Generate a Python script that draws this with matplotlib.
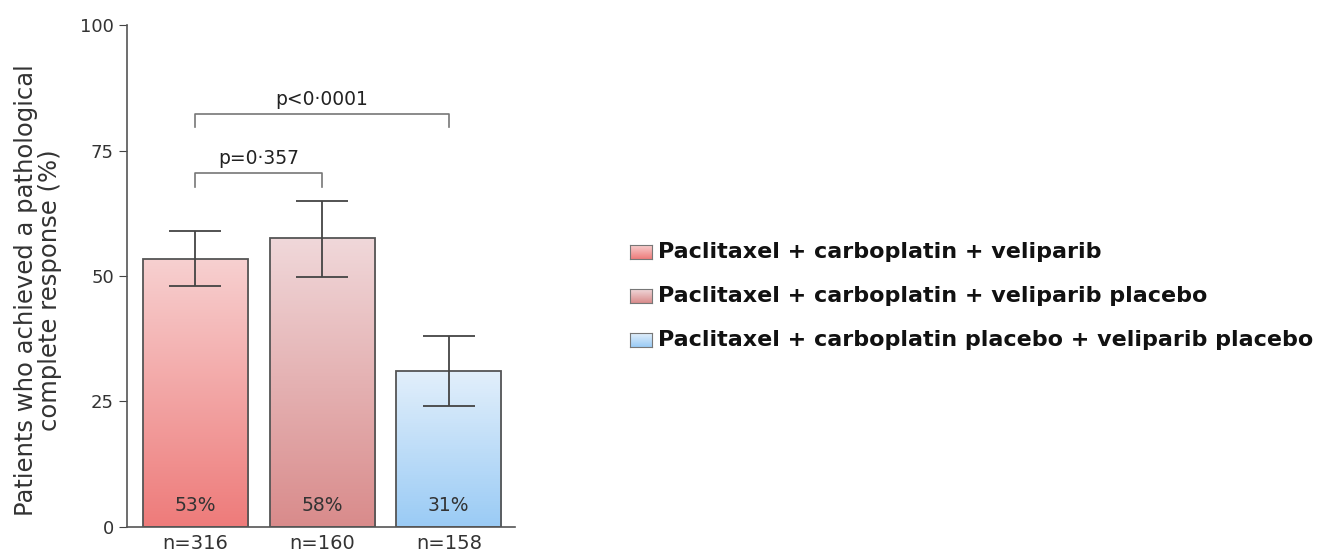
import numpy as np
import matplotlib.pyplot as plt
from matplotlib.patches import Rectangle
from matplotlib.colors import LinearSegmentedColormap

plt.rcParams['font.family'] = ['DejaVu Sans']

groups = ["Paclitaxel + carboplatin + veliparib",
          "Paclitaxel + carboplatin + veliparib placebo",
          "Paclitaxel + carboplatin placebo + veliparib placebo"]
n_labels = ["n=316", "n=160", "n=158"]
pcr = [53.3, 57.6, 31.0]
ci_low = [48.0, 49.7, 24.0]
ci_high = [59.0, 65.0, 38.0]
pct_labels = ["53%", "58%", "31%"]
# (top colour, bottom colour) for each bar
grad_colors = [("#f7d0d0", "#ee7b7a"),
               ("#f0d8da", "#d98b8b"),
               ("#e2effb", "#9acbf5")]
comparisons = [(0, 1, 70.5, "p=0·357"), (0, 2, 82.3, "p<0·0001")]

fig = plt.figure(figsize=(13.23, 5.57), dpi=100)
ax = fig.add_axes([0.096, 0.054, 0.293, 0.901])

width = 0.83
x = np.arange(len(pcr))
grad = np.linspace(0, 1, 256).reshape(-1, 1)
for i, (val, (top, bot)) in enumerate(zip(pcr, grad_colors)):
    cmap = LinearSegmentedColormap.from_list("g%d" % i, [bot, top])
    im = ax.imshow(grad, cmap=cmap, aspect="auto", origin="lower",
                   extent=[x[i] - width / 2, x[i] + width / 2, 0, val], zorder=1)
    rect = Rectangle((x[i] - width / 2, 0), width, val, facecolor="none",
                     edgecolor="#555555", linewidth=1.3, zorder=2)
    ax.add_patch(rect)
    im.set_clip_path(rect)
    ax.text(x[i], 4.3, pct_labels[i], ha="center", va="center", fontsize=13.5,
            color="#333333", zorder=4)

yerr = [np.array(pcr) - np.array(ci_low), np.array(ci_high) - np.array(pcr)]
ax.errorbar(x, pcr, yerr=yerr, fmt="none", ecolor="#444444", elinewidth=1.3,
            capsize=19, capthick=1.3, zorder=3)

for a, b, h, label in comparisons:
    ax.plot([x[a], x[a], x[b], x[b]], [h - 2.7, h, h, h - 2.7],
            color="#777777", linewidth=1.2)
    ax.text((x[a] + x[b]) / 2, h + 1.0, label, ha="center", va="bottom",
            fontsize=13.5, color="#222222")

ax.set_xlim(-0.54, 2.52)
ax.set_ylim(0, 100)
ax.set_yticks([0, 25, 50, 75, 100])
ax.tick_params(axis="y", labelsize=13, length=6, colors="#444444",
               labelcolor="#333333")
ax.set_xticks(x)
ax.set_xticklabels(n_labels, fontsize=14, color="#333333")
ax.tick_params(axis="x", length=0, pad=5)
for s in ["top", "right"]:
    ax.spines[s].set_visible(False)
for s in ["left", "bottom"]:
    ax.spines[s].set_color("#555555")
    ax.spines[s].set_linewidth(1.2)
ax.set_ylabel("Patients who achieved a pathological\ncomplete response (%)",
              fontsize=17.5, color="#333333", linespacing=1.0)
ax.yaxis.set_label_coords(-0.168, 0.472)

# legend with gradient swatches
legend_y = [0.548, 0.469, 0.390]
for label, (top, bot), ly in zip(groups, grad_colors, legend_y):
    sw = fig.add_axes([0.476, ly - 0.0125, 0.0166, 0.024])
    sw.imshow(grad, cmap=LinearSegmentedColormap.from_list("s", [bot, top]),
              aspect="auto", origin="lower")
    sw.set_xticks([])
    sw.set_yticks([])
    for sp in sw.spines.values():
        sp.set_color("#777777")
    fig.text(0.497, ly, label, fontsize=16, fontweight="bold",
             va="center", ha="left", color="#111111")

fig.savefig("out.png", dpi=100)
